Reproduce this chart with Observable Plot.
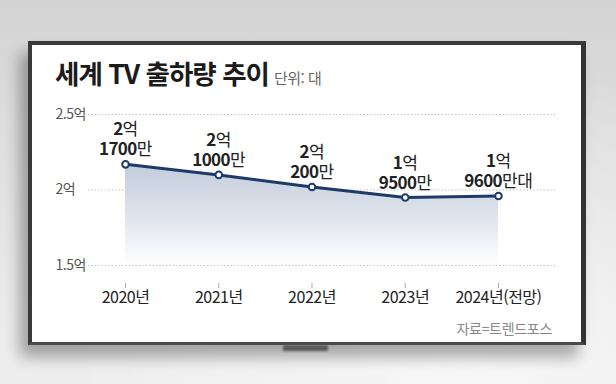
<!DOCTYPE html>
<html lang="ko">
<head>
<meta charset="utf-8">
<script src="https://cdn.jsdelivr.net/npm/d3@7"></script>
<script src="https://cdn.jsdelivr.net/npm/@observablehq/plot@0.6"></script>
<style>
  html, body { margin: 0; padding: 0; }
  body {
    width: 616px; height: 384px; overflow: hidden; position: relative;
    font-family: "Noto Sans CJK KR", "Noto Sans", sans-serif;
    background: linear-gradient(180deg, #d3d3d3 0%, #dedede 35%, #e9e9e9 75%, #eeeeee 100%);
  }
  .glow {
    position: absolute; left: 0; top: 0; width: 616px; height: 384px;
    background: radial-gradient(ellipse at 75% 95%, rgba(255,255,255,0.55) 0%, rgba(255,255,255,0) 60%);
  }
  .tv {
    position: absolute; left: 28px; top: 41px; width: 549px; height: 297px;
    background: #fff;
    border-left: 4px solid #3a3a3a; border-top: 4px solid #3a3a3a;
    border-right: 5px solid #333; border-bottom: 3px solid #4a4a4a;
    box-shadow: -8px 12px 14px rgba(0,0,0,0.32);
  }
  .stand {
    position: absolute; left: 283px; top: 345px; width: 45px; height: 6px;
    background: #5a5a5a; border-radius: 1px; filter: blur(0.8px);
  }
  .title {
    position: absolute; left: 55px; top: 56px; white-space: nowrap;
    font-size: 26.5px; font-weight: 700; color: #1b1b1b; letter-spacing: -1px; line-height: 34px;
  }
  .title .unit { font-size: 15px; font-weight: 400; color: #666; letter-spacing: -0.5px; margin-left: 5px; }
  .source {
    position: absolute; right: 64px; top: 319px; font-size: 14px; color: #888;
    letter-spacing: -0.3px; line-height: 18px; white-space: nowrap;
  }
</style>
</head>
<body>
<div class="glow"></div>
<div class="tv"></div>
<div class="stand"></div>
<div class="title">세계 TV 출하량 추이<span class="unit">단위: 대</span></div>
<div class="source">자료=트렌드포스</div>
<div id="chart"></div>
<script>
const years = [2020, 2021, 2022, 2023, 2024];
const yearLabels = ["2020년", "2021년", "2022년", "2023년", "2024년(전망)"];
const shipments = [2.17, 2.10, 2.02, 1.95, 1.96]; // 억 대
const valueLabels = ["2억\n1700만", "2억\n1000만", "2억\n200만", "1억\n9500만", "1억\n9600만대"];
const yTicks = [1.5, 2, 2.5];
const yTickLabels = ["1.5억", "2억", "2.5억"];

const data = years.map((year, i) => ({year, value: shipments[i], label: valueLabels[i]}));
const yTickData = yTicks.map((v, i) => ({v, label: yTickLabels[i]}));

const NAVY = "#1d3a69";

const defs = () => {
  const ns = "http://www.w3.org/2000/svg";
  const d = document.createElementNS(ns, "defs");
  d.innerHTML = `<linearGradient id="areaGrad" x1="0" y1="0" x2="0" y2="1">
      <stop offset="0%" stop-color="#c3ccdb"/>
      <stop offset="55%" stop-color="#e1e6ee"/>
      <stop offset="100%" stop-color="#ffffff"/>
    </linearGradient>`;
  return d;
};

const chart = Plot.plot({
  width: 616,
  height: 384,
  marginLeft: 88,
  marginRight: 59,
  marginTop: 114,
  marginBottom: 101,
  style: {background: "transparent", position: "absolute", left: "0px", top: "0px", overflow: "visible",
          fontFamily: "'Noto Sans CJK KR', 'Noto Sans', sans-serif"},
  x: {type: "linear", domain: [2019.603, 2024.633]},
  y: {domain: [1.381, 2.5], axis: null},
  marks: [
    defs,
    Plot.ruleY(yTicks, {stroke: "#b5b5b5", strokeWidth: 1, strokeDasharray: "1.2,2.2"}),
    Plot.text(yTickData, {y: "v", text: "label", frameAnchor: "left", dx: -33, textAnchor: "start",
                          fontSize: 14, fill: "#555", style: "letter-spacing:-0.5px"}),
    Plot.areaY(data, {x: "year", y1: 1.5, y2: "value", fill: "url(#areaGrad)"}),
    Plot.line(data, {x: "year", y: "value", stroke: NAVY, strokeWidth: 3}),
    Plot.dot(data, {x: "year", y: "value", r: 3.3, fill: "white", stroke: NAVY, strokeWidth: 2}),
    Plot.text(data, {x: "year", y: "value", text: "label", lineAnchor: "bottom", lineHeight: 1.18,
                     dy: -9, fontSize: 17, fill: "#222", className: "vlabel"}),
    Plot.axisX({ticks: years, tickFormat: d => yearLabels[years.indexOf(d)], tickSize: 5, tickPadding: 3,
                stroke: "#aaa", fontSize: 16, fill: "#222", label: null})
  ]
});

document.getElementById("chart").appendChild(chart);

// Rebuild value labels as flat tspans: bold numerals, regular units
const ns = "http://www.w3.org/2000/svg";
chart.querySelectorAll("g.vlabel text").forEach(t => {
  const lineEls = Array.from(t.querySelectorAll("tspan"));
  if (!lineEls.length) return;
  const lines = lineEls.map(el => ({
    text: el.textContent,
    attrs: Array.from(el.attributes).map(a => [a.name, a.value])
  }));
  t.textContent = "";
  lines.forEach(line => {
    const parts = line.text.match(/\d+|\D+/g) || [];
    parts.forEach((part, j) => {
      const sp = document.createElementNS(ns, "tspan");
      if (j === 0) line.attrs.forEach(([k, v]) => sp.setAttribute(k, v));
      const num = /\d/.test(part);
      sp.setAttribute("font-weight", num ? "700" : "400");
      sp.setAttribute("letter-spacing", num ? "-0.6" : "-0.3");
      sp.textContent = part;
      t.appendChild(sp);
    });
  });
});
// x tick label tracking
chart.querySelectorAll("text").forEach(t => {
  if (!t.closest("g.vlabel")) t.setAttribute("letter-spacing", "-0.5");
});
</script>
</body>
</html>
